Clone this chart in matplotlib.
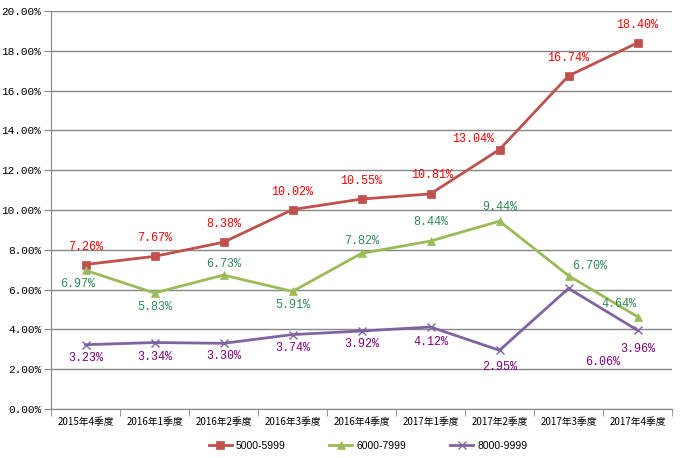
import matplotlib
matplotlib.use('Agg')
import matplotlib.pyplot as plt
from matplotlib.ticker import FuncFormatter

plt.rcParams['font.family'] = ['Noto Sans CJK SC', 'DejaVu Sans']

quarters = ['2015年4季度', '2016年1季度', '2016年2季度', '2016年3季度', '2016年4季度',
            '2017年1季度', '2017年2季度', '2017年3季度', '2017年4季度']
s5000 = [7.26, 7.67, 8.38, 10.02, 10.55, 10.81, 13.04, 16.74, 18.40]
s6000 = [6.97, 5.83, 6.73, 5.91, 7.82, 8.44, 9.44, 6.70, 4.64]
s8000 = [3.23, 3.34, 3.30, 3.74, 3.92, 4.12, 2.95, 6.06, 3.96]

# label offsets in pixels (dx, dy)
off5000 = [(0, 18), (0, 18), (0, 18), (0, 18), (0, 18), (2, 19), (-26, 11), (0, 18), (0, 18)]
off6000 = [(-8, -14), (0, -14), (0, 11), (0, -14), (0, 12), (0, 19), (0, 14), (21, 10), (-19, 13)]
off8000 = [(0, -13), (0, -14), (0, -13), (0, -13), (0, -13), (0, -15), (0, -17), (34, -74), (0, -19)]

fig = plt.figure(figsize=(6.83, 4.58), dpi=100)
ax = fig.add_axes([51 / 683, 1 - 409 / 458, 621 / 683, 398 / 458])

mono = ['Liberation Mono', 'DejaVu Sans Mono']
x = list(range(len(quarters)))
series = [
    (s5000, '5000-5999', '#C0504D', 's', '#FF0000', off5000),
    (s6000, '6000-7999', '#9BBB59', '^', '#2E8B57', off6000),
    (s8000, '8000-9999', '#8064A2', 'x', '#800080', off8000),
]
for vals, name, col, mk, lcol, offs in series:
    ax.plot(x, vals, color=col, lw=2, marker=mk, markersize=6,
            markeredgewidth=1 if mk == 'x' else 0.5, label=name)
    for xi, v, (dx, dy) in zip(x, vals, offs):
        ax.annotate('%.2f%%' % v, (xi, v), xytext=(dx, dy), textcoords='offset pixels',
                    ha='center', va='center', color=lcol, fontsize=8.5, family=mono)

ax.set_xlim(-0.5, 8.5)
ax.set_ylim(0, 20)
ax.set_yticks(range(0, 21, 2))
ax.yaxis.set_major_formatter(FuncFormatter(lambda v, p: '%.2f%%' % v))
ax.set_xticks(x)
ax.set_xticklabels(quarters, fontsize=7)
ax.set_xticks([i - 0.5 for i in range(10)], minor=True)
ax.tick_params(axis='x', which='major', length=0, pad=6)
ax.tick_params(axis='x', which='minor', length=5, color='#868686')
ax.tick_params(axis='y', length=5, color='#868686', labelsize=8, pad=2)
for lab in ax.get_yticklabels():
    lab.set_family(mono)
ax.grid(axis='y', color='#868686', lw=1)
ax.set_axisbelow(True)
for sp in ['top', 'right']:
    ax.spines[sp].set_visible(False)
for sp in ['left', 'bottom']:
    ax.spines[sp].set_color('#868686')

handles, labels = ax.get_legend_handles_labels()
fig.legend(handles, labels, loc='center', bbox_to_anchor=(368 / 683, 1 - 446 / 458), ncol=3,
           frameon=False, prop={'family': ['Liberation Sans', 'DejaVu Sans'], 'size': 7.5},
           handlelength=2.2, handletextpad=0.4, columnspacing=4.2)

fig.savefig('out.png', dpi=100)
